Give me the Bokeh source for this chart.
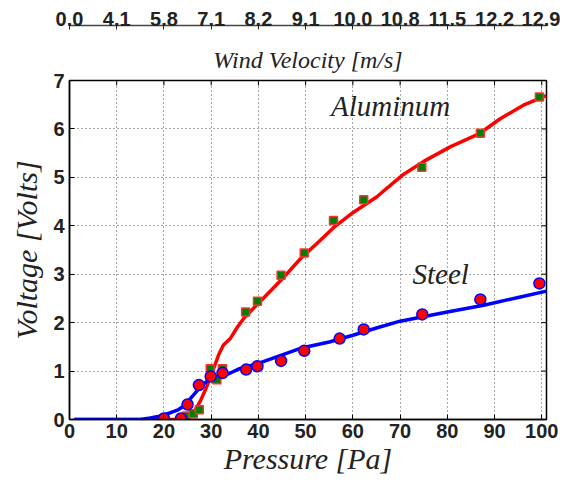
from bokeh.plotting import figure
from bokeh.models import LinearAxis, Range1d, FixedTicker, Title, Label
from bokeh.embed import file_html
from bokeh.resources import INLINE

# ---- data ----
# Aluminum fitted curve (pressure Pa, voltage V)
al_curve_p = [1, 10, 20, 24, 25.5, 26.5, 27.7, 28.8, 29.8, 30.7, 31.6, 32.6, 34.1, 35.5, 37.0,
              40.0, 42.5, 45.0, 48.9, 52.0, 55.9, 60.0, 65.1, 67.5, 70.7, 75.0, 80.6, 86.9,
              91.2, 96.1, 101.0]
al_curve_v = [0, 0, 0, 0, 0.05, 0.18, 0.38, 0.62, 0.86, 1.1, 1.34, 1.54, 1.68, 1.9, 2.1,
              2.4, 2.65, 2.9, 3.32, 3.6, 3.96, 4.27, 4.6, 4.8, 5.06, 5.33, 5.63, 5.91,
              6.21, 6.49, 6.69]
# Steel fitted curve
st_curve_p = [1, 10, 15, 17.1, 19, 21.4, 23, 24.2, 25.5, 27, 28, 29.1, 31, 33.4, 36, 39.7,
              44, 48.9, 55, 60, 65, 70, 80, 87.7, 95, 101]
st_curve_v = [0, 0, 0.0, 0.03, 0.07, 0.14, 0.2, 0.28, 0.42, 0.59, 0.7, 0.79, 0.87, 0.93,
              1.05, 1.15, 1.3, 1.47, 1.6, 1.74, 1.89, 2.03, 2.22, 2.36, 2.52, 2.65]
# Measured points
al_pts_p = [24.8, 26.2, 27.5, 29.8, 31.2, 32.4, 37.3, 39.8, 44.8, 49.7, 55.9, 62.3, 74.6, 87.0, 99.5]
al_pts_v = [0.07, 0.12, 0.20, 1.05, 0.82, 1.05, 2.22, 2.44, 2.98, 3.44, 4.11, 4.54, 5.21, 5.91, 6.66]
st_pts_p = [20.0, 23.6, 25.0, 27.4, 29.9, 32.4, 37.4, 39.8, 44.8, 49.7, 57.2, 62.3, 74.7, 87.0, 99.5]
st_pts_v = [0.02, 0.02, 0.31, 0.71, 0.89, 0.96, 1.03, 1.10, 1.21, 1.42, 1.67, 1.86, 2.17, 2.48, 2.81]

# Axis ticks
p_ticks = [0, 10, 20, 30, 40, 50, 60, 70, 80, 90, 100]
v_ticks = [0, 1, 2, 3, 4, 5, 6, 7]
wind_labels = ["0.0", "4.1", "5.8", "7.1", "8.2", "9.1", "10.0", "10.8", "11.5", "12.2", "12.9"]

TICK_FONT = "Liberation Sans"
SERIF = "Liberation Serif"
TXT = "#222222"

X0, X1, Y0, Y1 = 0, 101, 0, 7
W, H = 560, 477
BL, BR, BT, BB = 69, 14, 80, 55

p = figure(width=W, height=H, output_backend="svg", toolbar_location=None, title=None,
           x_range=Range1d(X0, X1), y_range=Range1d(Y0, Y1),
           min_border_left=BL, min_border_right=BR, min_border_top=BT, min_border_bottom=BB)

p.outline_line_color = "black"
p.outline_line_width = 1.5

def style_axis(ax):
    ax.major_tick_in = 5
    ax.major_tick_out = 0
    ax.minor_tick_in = 0
    ax.minor_tick_out = 0
    ax.axis_line_color = "black"
    ax.axis_line_width = 1.5
    ax.major_tick_line_color = "black"
    ax.major_label_text_font = TICK_FONT
    ax.major_label_text_font_style = "bold"
    ax.major_label_text_font_size = "20px"
    ax.major_label_text_color = TXT

p.xaxis.ticker = FixedTicker(ticks=p_ticks)
p.yaxis.ticker = FixedTicker(ticks=v_ticks)
style_axis(p.xaxis[0])
style_axis(p.yaxis[0])
p.xaxis.major_label_standoff = 4
p.yaxis.major_label_standoff = 5

for ax, lab in [(p.xaxis[0], "Pressure [Pa]"), (p.yaxis[0], "Voltage [Volts]")]:
    ax.axis_label = lab
    ax.axis_label_text_font = SERIF
    ax.axis_label_text_font_style = "italic"
    ax.axis_label_text_font_size = "30px"
    ax.axis_label_text_color = TXT
p.xaxis.axis_label_standoff = 1
p.yaxis.axis_label_standoff = 7

# inward box ticks on the top and right frame edges (lengths of 5 px)
fw, fh = W - BL - BR, H - BT - BB
tick_dy = 5 * (Y1 - Y0) / fh
tick_dx = 5 * (X1 - X0) / fw
p.segment(x0=p_ticks, y0=[Y1] * len(p_ticks), x1=p_ticks, y1=[Y1 - tick_dy] * len(p_ticks),
          line_color="black", line_width=1)
p.segment(x0=[X1] * len(v_ticks), y0=v_ticks, x1=[X1 - tick_dx] * len(v_ticks), y1=v_ticks,
          line_color="black", line_width=1)

# caption of the top axis (closest to the frame), spacer, then the wind axis
p.add_layout(Title(text="Wind Velocity [m/s]", align="center", offset=-9, standoff=15,
                   text_font=SERIF, text_font_style="italic", text_font_size="24px",
                   text_color=TXT), "above")
p.add_layout(Title(text=" ", text_font_size="9px", standoff=0, offset=0), "above")

wind_axis = LinearAxis(ticker=FixedTicker(ticks=p_ticks),
                       major_label_overrides={t: s for t, s in zip(p_ticks, wind_labels)})
wind_axis.major_tick_in = 4
wind_axis.major_tick_out = 0
wind_axis.minor_tick_in = 0
wind_axis.minor_tick_out = 0
wind_axis.axis_line_color = "#444444"
wind_axis.axis_line_width = 1.5
wind_axis.major_tick_line_color = "#222222"
wind_axis.major_label_standoff = 0
wind_axis.major_label_text_font = TICK_FONT
wind_axis.major_label_text_font_style = "bold"
wind_axis.major_label_text_font_size = "20px"
wind_axis.major_label_text_color = TXT
p.add_layout(wind_axis, "above")

for g, t in [(p.xgrid[0], p_ticks), (p.ygrid[0], v_ticks)]:
    g.ticker = FixedTicker(ticks=t)
    g.grid_line_color = "black"
    g.grid_line_alpha = 0.7
    g.grid_line_dash = "1 3"
    g.grid_line_width = 1

p.line(al_curve_p, al_curve_v, line_color="#ff0000", line_width=3.5)
p.line(st_curve_p, st_curve_v, line_color="#0000ff", line_width=3.5)
p.scatter(al_pts_p, al_pts_v, marker="square", size=8, fill_color="#008000",
          line_color="#ff3030", line_width=1.5)
p.scatter(st_pts_p, st_pts_v, marker="circle", size=11, fill_color="#ff0000",
          line_color="#0000ff", line_width=1.5)

p.add_layout(Label(x=68.0, y=6.47, text="Aluminum", text_align="center", text_baseline="middle",
                   text_font=SERIF, text_font_style="italic", text_font_size="29px", text_color=TXT))
p.add_layout(Label(x=78.6, y=3.0, text="Steel", text_align="center", text_baseline="middle",
                   text_font=SERIF, text_font_style="italic", text_font_size="29px", text_color=TXT))

open("out.html", "w").write(file_html(p, INLINE))
